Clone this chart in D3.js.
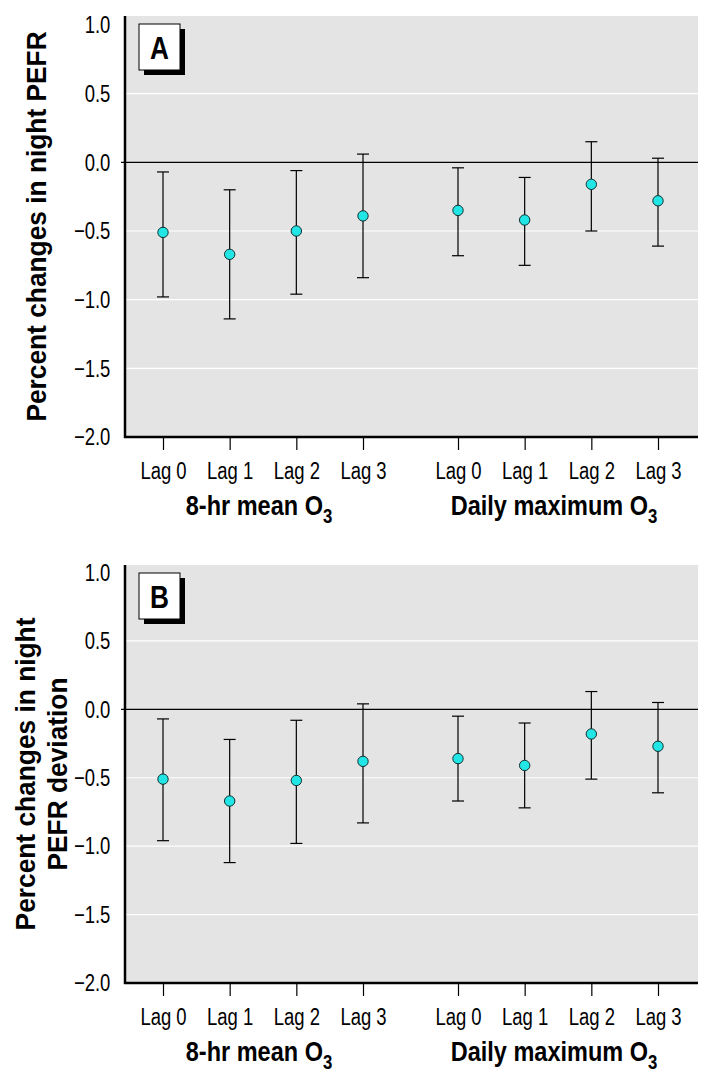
<!DOCTYPE html>
<html>
<head>
<meta charset="utf-8">
<script src="https://cdn.jsdelivr.net/npm/d3@7"></script>
<style>
  body { margin: 0; background: #fff; }
  svg { display: block; }
</style>
</head>
<body>
<div id="chart"></div>
<script>
// data
const lags = ["Lag 0", "Lag 1", "Lag 2", "Lag 3"];
const groups = ["8-hr mean O", "Daily maximum O"];
const yTicks = [1.0, 0.5, 0.0, -0.5, -1.0, -1.5, -2.0];
const gridTicks = [0.5, -0.5, -1.0, -1.5];

// panel A: night PEFR (8 estimates: 8-hr mean lag0..3, daily max lag0..3)
const estA = [-0.51, -0.67, -0.50, -0.39, -0.35, -0.42, -0.16, -0.28];
const lowA = [-0.98, -1.14, -0.96, -0.84, -0.68, -0.75, -0.50, -0.61];
const highA = [-0.07, -0.20, -0.06, 0.06, -0.04, -0.11, 0.15, 0.03];

// panel B: night PEFR deviation
const estB = [-0.51, -0.67, -0.52, -0.38, -0.36, -0.41, -0.18, -0.27];
const lowB = [-0.96, -1.12, -0.98, -0.83, -0.67, -0.72, -0.51, -0.61];
const highB = [-0.07, -0.22, -0.08, 0.04, -0.05, -0.10, 0.13, 0.05];

const W = 715, H = 1083;
const left = 125, right = 698;
const font = "'Liberation Sans', Arial, sans-serif";
const squeeze = "scale(0.77,1)"; // fake a condensed face

const svg = d3.select("#chart").append("svg")
  .attr("width", W)
  .attr("height", H)
  .attr("viewBox", [0, 0, W, H]);

const x0 = d3.scalePoint().domain(groups).range([263, 558]);

function drawPanel(opts) {
  const { top, bottom, yOne, letter, titleLines, est, low, high } = opts;
  const g = svg.append("g");
  const y = d3.scaleLinear().domain([-2, 1]).range([bottom, yOne]);

  // background
  g.append("rect")
    .attr("x", left)
    .attr("y", top)
    .attr("width", right - left)
    .attr("height", bottom - top)
    .attr("fill", "#e4e4e4");

  // white grid lines
  g.selectAll(".grid")
    .data(gridTicks)
    .join("line")
    .attr("x1", left)
    .attr("x2", right)
    .attr("y1", (d) => y(d))
    .attr("y2", (d) => y(d))
    .attr("stroke", "#fff")
    .attr("stroke-width", 1.2);

  // zero line
  g.append("line")
    .attr("x1", left - 4)
    .attr("x2", right)
    .attr("y1", y(0))
    .attr("y2", y(0))
    .attr("stroke", "#000")
    .attr("stroke-width", 1.2);

  // y axis labels
  const yAxis = g.append("g")
    .attr("transform", `translate(${left},0)`)
    .call(d3.axisLeft(y).tickValues(yTicks).tickSize(0).tickPadding(19)
      .tickFormat(d3.format(".1f")));
  yAxis.select(".domain").remove();
  yAxis.selectAll("text")
    .attr("font-family", font)
    .attr("font-size", 24)
    .attr("fill", "#000")
    .attr("transform", squeeze);

  // axis lines
  g.append("line")
    .attr("x1", left).attr("x2", left)
    .attr("y1", top).attr("y2", bottom + 1)
    .attr("stroke", "#000").attr("stroke-width", 2.5);
  g.append("line")
    .attr("x1", left - 1).attr("x2", right)
    .attr("y1", bottom).attr("y2", bottom)
    .attr("stroke", "#000").attr("stroke-width", 2.5);

  // x axes, one per O3 metric
  groups.forEach((grp, gi) => {
    const xs = d3.scalePoint().domain(lags)
      .range([x0(grp) - 100, x0(grp) + 100]);
    const xa = g.append("g")
      .attr("transform", `translate(0,${bottom + 1})`)
      .call(d3.axisBottom(xs).tickSize(12).tickPadding(12));
    xa.select(".domain").remove();
    xa.selectAll("line").attr("stroke", "#000").attr("stroke-width", 1.2);
    xa.selectAll("text")
      .attr("font-family", font)
      .attr("font-size", 24)
      .attr("fill", "#000")
      .attr("transform", squeeze);

    const lab = g.append("text")
      .attr("transform", `translate(${x0(grp) - 4},${bottom + 78}) scale(0.84,1)`)
      .attr("text-anchor", "middle")
      .attr("font-family", font)
      .attr("font-weight", "bold")
      .attr("font-size", 28)
      .text(grp);
    lab.append("tspan")
      .attr("font-size", 20)
      .attr("dy", 8)
      .text("3");

    const rows = lags.map((l, i) => ({
      x: xs(l),
      est: est[gi * 4 + i],
      low: low[gi * 4 + i],
      high: high[gi * 4 + i],
    }));

    const bars = g.append("g").selectAll("g")
      .data(rows)
      .join("g");
    bars.append("line")
      .attr("x1", (d) => d.x).attr("x2", (d) => d.x)
      .attr("y1", (d) => y(d.low)).attr("y2", (d) => y(d.high))
      .attr("stroke", "#000").attr("stroke-width", 1.2);
    ["low", "high"].forEach((k) => {
      bars.append("line")
        .attr("x1", (d) => d.x - 6).attr("x2", (d) => d.x + 6)
        .attr("y1", (d) => y(d[k])).attr("y2", (d) => y(d[k]))
        .attr("stroke", "#000").attr("stroke-width", 1.2);
    });
    bars.append("circle")
      .attr("cx", (d) => d.x)
      .attr("cy", (d) => y(d.est))
      .attr("r", 5.2)
      .attr("fill", "#22e6e6")
      .attr("stroke", "#103030")
      .attr("stroke-width", 1);
  });

  // panel letter box with shadow
  const bx = 139, by = top + 8, bw = 41, bh = 46;
  g.append("rect")
    .attr("x", bx + 5).attr("y", by + 5)
    .attr("width", bw).attr("height", bh)
    .attr("fill", "#000");
  g.append("rect")
    .attr("x", bx).attr("y", by)
    .attr("width", bw).attr("height", bh)
    .attr("fill", "#fff")
    .attr("stroke", "#000")
    .attr("stroke-width", 1);
  g.append("text")
    .attr("transform", `translate(${bx + bw / 2},${by + bh / 2 + 12}) scale(0.82,1)`)
    .attr("text-anchor", "middle")
    .attr("font-family", font)
    .attr("font-weight", "bold")
    .attr("font-size", 32)
    .text(letter);

  // y axis title
  const cy = (top + bottom) / 2;
  titleLines.forEach((t) => {
    g.append("text")
      .attr("transform", `translate(${t.x},${cy}) rotate(-90) scale(0.94,1)`)
      .attr("text-anchor", "middle")
      .attr("font-family", font)
      .attr("font-weight", "bold")
      .attr("font-size", 28)
      .text(t.text);
  });
}

drawPanel({
  top: 16, bottom: 437, yOne: 25, letter: "A",
  titleLines: [{ text: "Percent changes in night PEFR", x: 46 }],
  est: estA, low: lowA, high: highA,
});

drawPanel({
  top: 565, bottom: 983, yOne: 572.5, letter: "B",
  titleLines: [
    { text: "Percent changes in night", x: 35 },
    { text: "PEFR deviation", x: 67 },
  ],
  est: estB, low: lowB, high: highB,
});
</script>
</body>
</html>
